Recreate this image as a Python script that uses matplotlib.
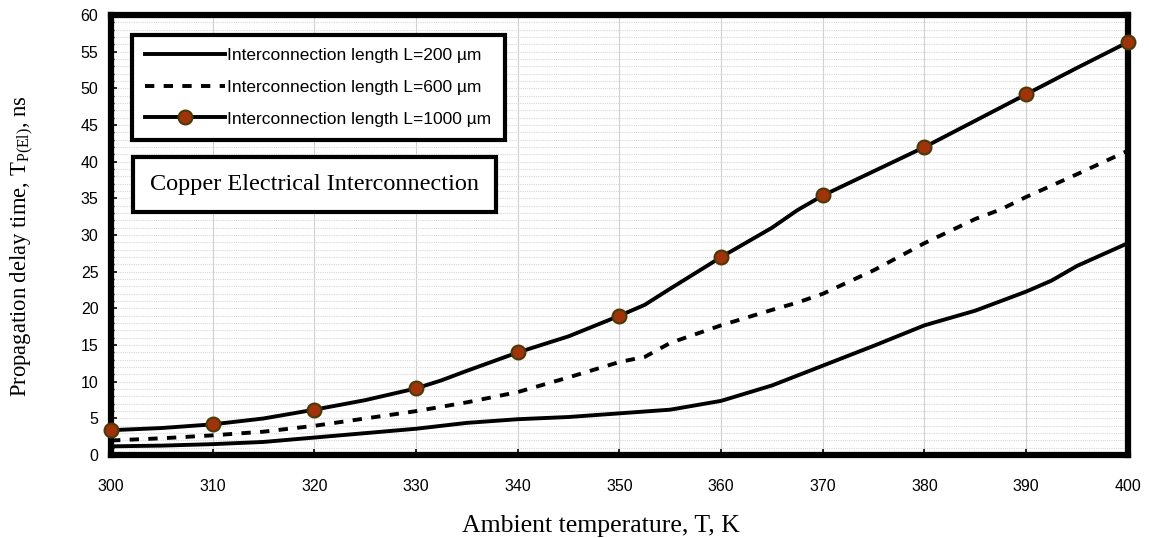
import matplotlib
matplotlib.use("Agg")
import matplotlib.pyplot as plt
from matplotlib.ticker import MultipleLocator

# Data
T_200 = [300, 305, 310, 315, 320, 325, 330, 335, 340, 345, 350, 355, 360, 365, 370, 375, 380, 385, 387.5, 390, 392.5, 395, 400]
L_200 = [1.2, 1.3, 1.5, 1.8, 2.4, 3.0, 3.6, 4.4, 4.9, 5.2, 5.7, 6.2, 7.4, 9.5, 12.2, 14.9, 17.7, 19.7, 21.0, 22.3, 23.8, 25.8, 28.9]

T_600 = [300, 305, 310, 315, 320, 325, 330, 335, 340, 345, 350, 352.5, 355, 360, 365, 367.5, 370, 375, 380, 385, 387.5, 390, 395, 400]
L_600 = [2.0, 2.3, 2.7, 3.2, 4.0, 5.0, 6.0, 7.2, 8.6, 10.6, 12.7, 13.4, 15.3, 17.7, 19.8, 20.8, 22.0, 25.2, 28.9, 32.2, 33.5, 35.2, 38.3, 41.5]

T_1000 = [300, 305, 310, 315, 320, 325, 330, 332.5, 335, 340, 345, 350, 352.5, 355, 360, 365, 367.5, 370, 375, 380, 385, 390, 395, 400]
L_1000 = [3.4, 3.7, 4.2, 5.0, 6.2, 7.5, 9.1, 10.2, 11.5, 14.0, 16.2, 19.0, 20.5, 22.7, 27.0, 31.0, 33.4, 35.4, 38.7, 42.0, 45.6, 49.2, 52.8, 56.3]
T_markers = [300, 310, 320, 330, 340, 350, 360, 370, 380, 390, 400]

labels = ["Interconnection length L=200 \u00b5m",
          "Interconnection length L=600 \u00b5m",
          "Interconnection length L=1000 \u00b5m"]

fig = plt.figure(figsize=(11.49, 5.38), dpi=100)
ax = fig.add_axes([0.0966, 0.154, 0.885, 0.818])

ax.plot(T_200, L_200, color="black", lw=2.8, label=labels[0], zorder=3)
ax.plot(T_600, L_600, color="black", lw=2.8, ls=(0, (2.4, 2.4)), label=labels[1], zorder=3)
marker_idx = [T_1000.index(t) for t in T_markers]
ax.plot(T_1000, L_1000, color="black", lw=2.8, marker="o", markevery=marker_idx,
        markersize=10, markerfacecolor="#a0330a", markeredgecolor="#4a3a0a",
        markeredgewidth=1.5, label=labels[2], zorder=4, clip_on=False)

ax.set_xlim(300, 400)
ax.set_ylim(0, 60)
ax.xaxis.set_major_locator(MultipleLocator(10))
ax.yaxis.set_major_locator(MultipleLocator(5))
ax.yaxis.set_minor_locator(MultipleLocator(1))

ax.grid(True, which="major", axis="x", color="#d0d0d0", lw=0.8)
ax.grid(True, which="minor", axis="y", color="#d8d8d8", lw=0.8, ls=(0, (1, 1)))
ax.grid(True, which="major", axis="y", color="#d8d8d8", lw=0.8, ls=(0, (1, 1)))
ax.set_axisbelow(True)

for sp in ax.spines.values():
    sp.set_linewidth(4.5)
    sp.set_color("black")

ax.tick_params(axis="both", which="major", direction="in", length=4, width=1.2,
               labelsize=11.5)
ax.tick_params(axis="x", pad=17)
ax.tick_params(axis="y", pad=9)
ax.tick_params(axis="y", which="minor", direction="in", length=2, width=1.0)
for lab in ax.get_xticklabels() + ax.get_yticklabels():
    lab.set_fontfamily("Liberation Sans")

ax.set_xlabel("Ambient temperature, T, K", fontfamily="Liberation Serif", fontsize=18.5)
ax.xaxis.set_label_coords(0.482, -0.135)
ax.set_ylabel(r"Propagation delay time, T$_{\mathregular{P(El)}}$, ns", fontfamily="Liberation Serif",
              fontsize=16.3)
ax.yaxis.set_label_coords(-0.074, 0.475)

leg = ax.legend(loc="upper left", bbox_to_anchor=(0.0206, 0.9545), frameon=True, fancybox=False,
                prop={"family": "Liberation Sans", "size": 12.5}, handlelength=4.6,
                handletextpad=0.15, borderpad=0.75, labelspacing=0.95, borderaxespad=0)
leg.get_frame().set_edgecolor("black")
leg.get_frame().set_linewidth(3)
leg.get_frame().set_alpha(1)

ax.text(0.2006, 0.614, "Copper Electrical Interconnection", transform=ax.transAxes,
        ha="center", va="center", fontfamily="Liberation Serif", fontsize=17.5,
        bbox=dict(boxstyle="square,pad=0.7", facecolor="white", edgecolor="black", linewidth=3),
        zorder=5)

fig.savefig("out.png", dpi=100)
